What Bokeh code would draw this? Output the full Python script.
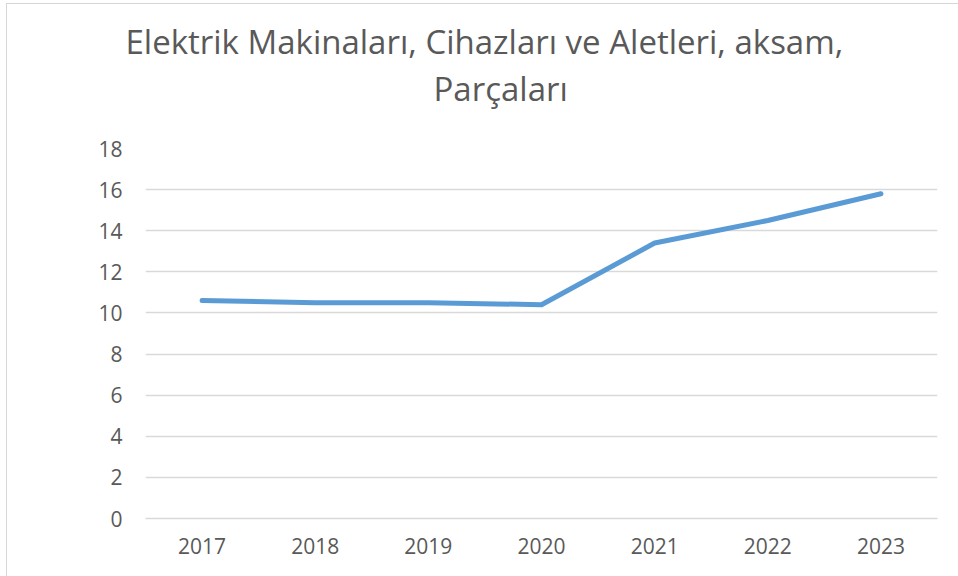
from bokeh.plotting import figure
from bokeh.layouts import column
from bokeh.models import FactorRange, Range1d, FixedTicker, ColumnDataSource, Title
from bokeh.embed import file_html
from bokeh.resources import INLINE

title_lines = ["Elektrik Makinaları, Cihazları ve Aletleri, aksam,", "Parçaları"]
years = ["2017", "2018", "2019", "2020", "2021", "2022", "2023"]
values = [10.6, 10.5, 10.5, 10.4, 13.4, 14.5, 15.8]
y_ticks = [0, 2, 4, 6, 8, 10, 12, 14, 16, 18]

FONT = "Open Sans"
TXT = "#595959"
GRID = "#d9d9d9"
OX, OY = 7, 4          # content origin on the page (after the outer border)
W = 958 - OX
TOPGAP = 12            # space above the title strip
TH = 136 - OY - TOPGAP
BL, BR = 145 - OX, 21  # frame borders (shared by both stacked figures)

# title strip (frame lines up with the chart frame below it)
t = figure(width=W, height=TH, x_range=Range1d(0, 1), y_range=Range1d(0, 1),
           output_backend="svg", toolbar_location=None, title_location=None,
           x_axis_location=None, y_axis_location=None,
           min_border_left=BL, min_border_right=BR, min_border_top=0, min_border_bottom=0)
t.styles = {"margin-top": f"{TOPGAP}px"}
t.grid.visible = False
t.outline_line_color = None
# offsets (px from the frame's left edge) that centre each line as in the original
title_offsets = [-20, 288]
for txt, off in reversed(list(zip(title_lines, title_offsets))):
    t.add_layout(Title(text=txt, align="left", offset=off, standoff=0,
                       vertical_align="bottom", text_font=FONT,
                       text_font_size="33px", text_font_style="normal",
                       text_color=TXT), "above")

p = figure(
    width=W, height=576 - 136,
    x_range=FactorRange(factors=years, range_padding=0),
    y_range=Range1d(0, 18),
    output_backend="svg", toolbar_location=None, title_location=None,
    min_border_left=BL, min_border_right=BR, min_border_top=148 - 136, min_border_bottom=58,
)
p.outline_line_color = None

src = ColumnDataSource(dict(x=years, y=values))
p.line("x", "y", source=src, line_color="#5B9BD5", line_width=5,
       line_cap="round", line_join="round")

p.yaxis.ticker = FixedTicker(ticks=y_ticks)
p.yaxis.axis_line_color = None
p.yaxis.major_tick_line_color = None
p.yaxis.minor_tick_line_color = None
p.yaxis.major_tick_out = 0
p.yaxis.major_label_standoff = 23
p.yaxis.major_label_text_font = FONT
p.yaxis.major_label_text_font_size = "21px"
p.yaxis.major_label_text_color = TXT

p.xaxis.axis_line_color = GRID
p.xaxis.axis_line_width = 1.3
p.xaxis.major_tick_line_color = None
p.xaxis.minor_tick_line_color = None
p.xaxis.major_tick_out = 0
p.xaxis.major_label_standoff = 19
p.xaxis.major_label_text_font = FONT
p.xaxis.major_label_text_font_size = "21px"
p.xaxis.major_label_text_color = TXT

p.xgrid.grid_line_color = None
p.ygrid.grid_line_color = GRID
p.ygrid.grid_line_width = 1.3

layout = column(t, p, spacing=0)
layout.styles = {"margin-left": "6px", "margin-top": "3px",
                 "border-top": "1px solid #d6d6d6", "border-left": "1px solid #d6d6d6"}
open("out.html", "w").write(file_html(layout, INLINE))
